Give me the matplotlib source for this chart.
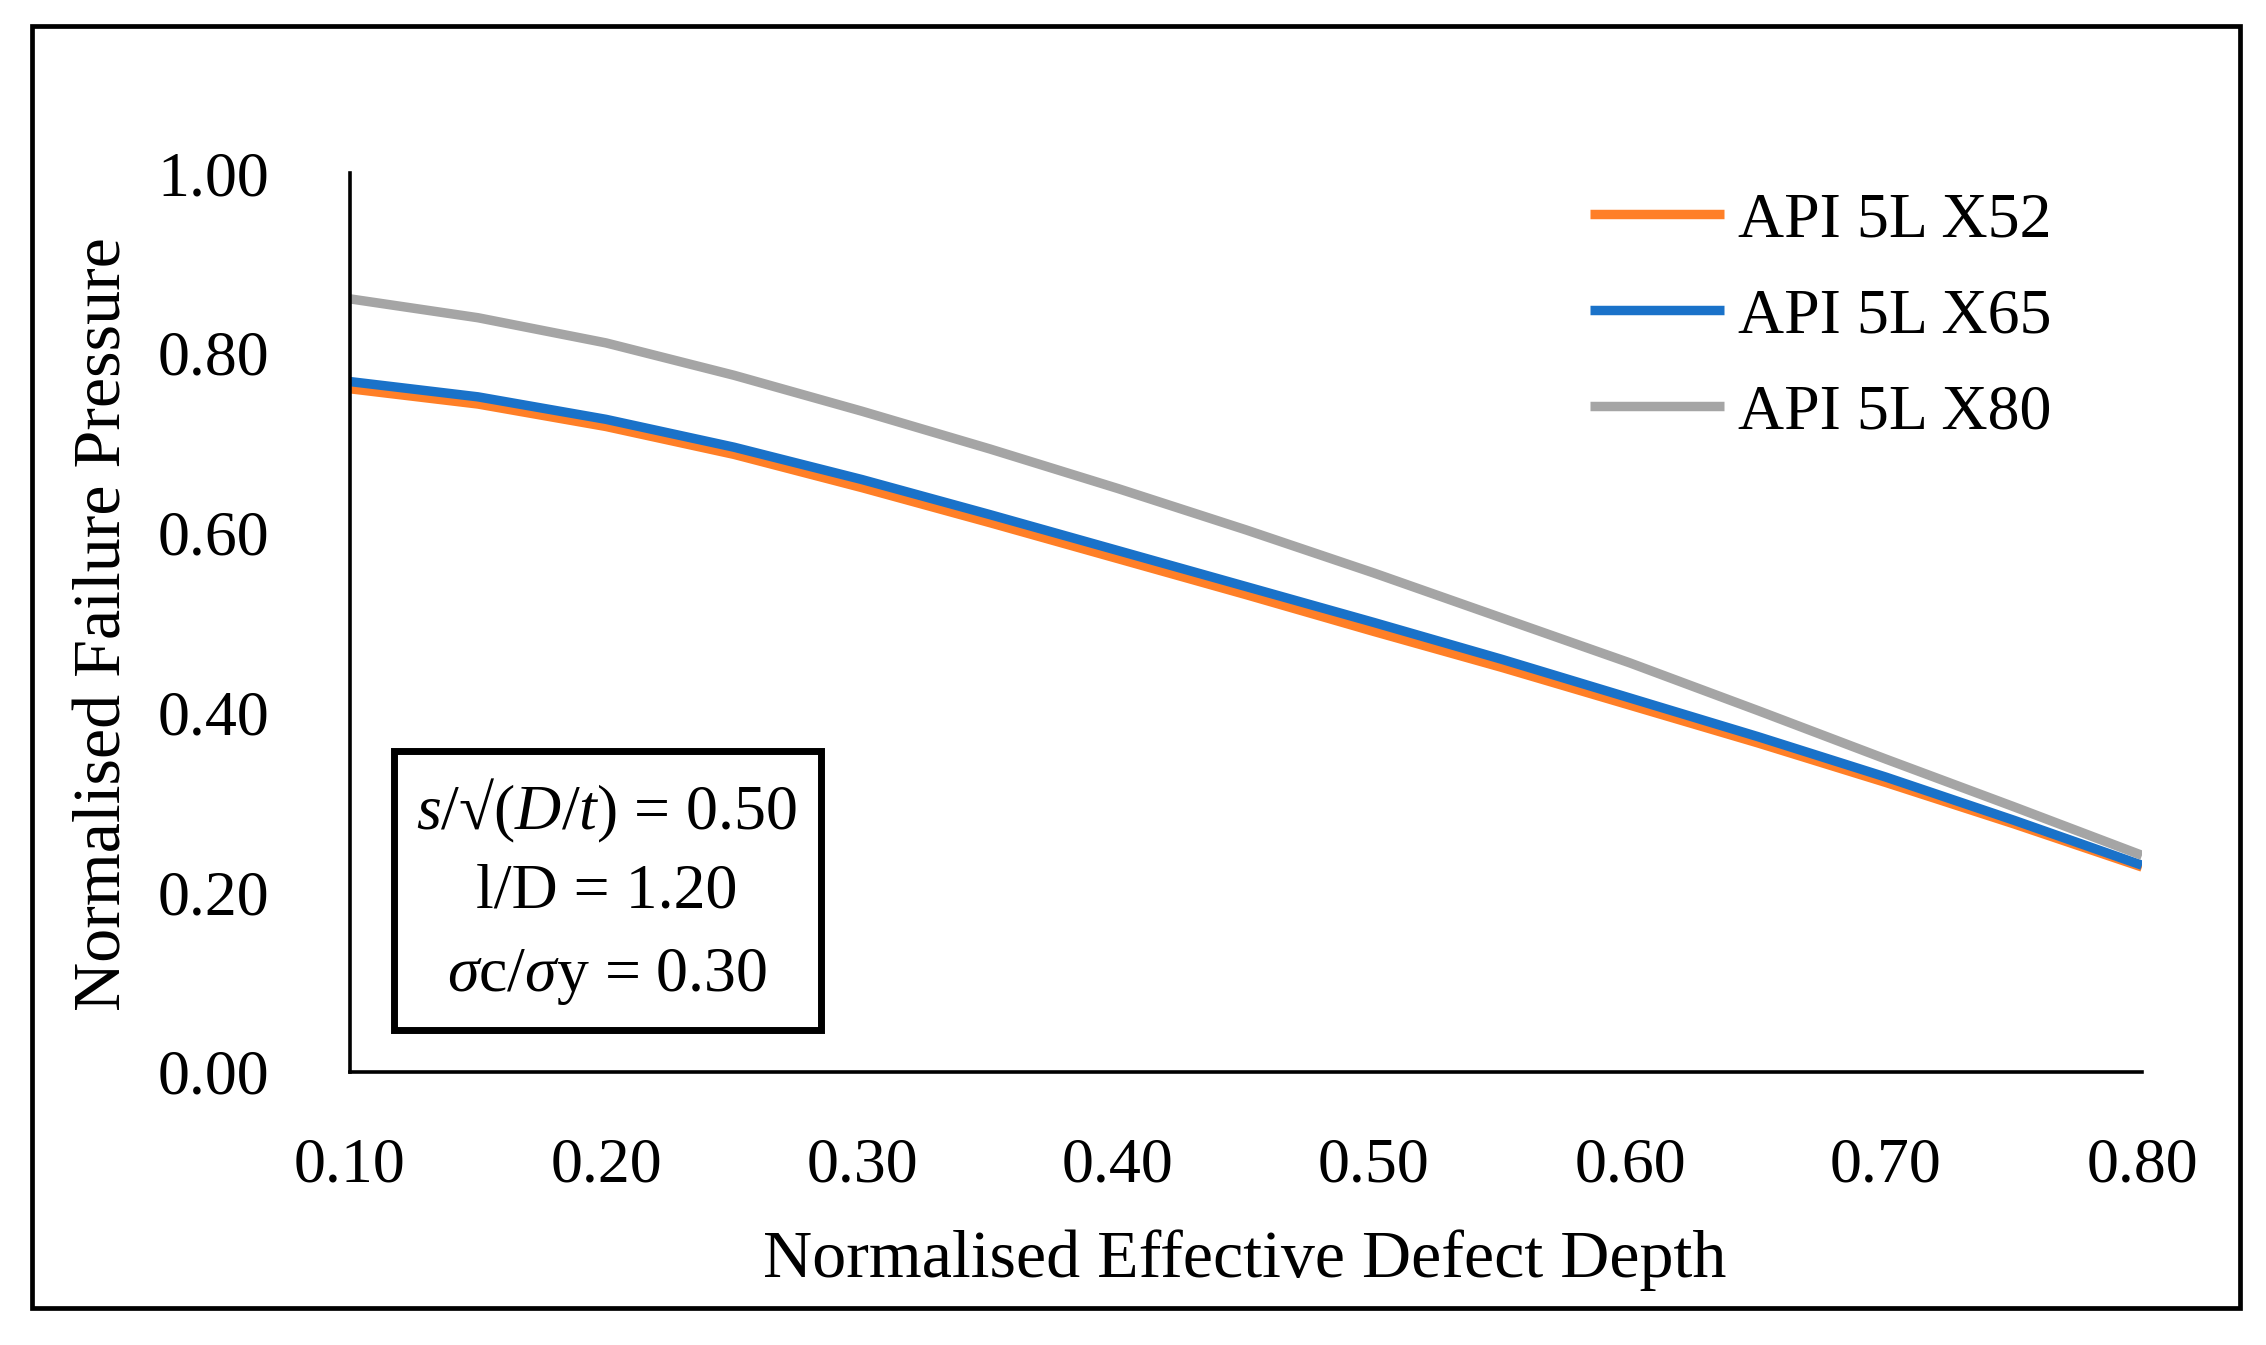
import matplotlib
matplotlib.use("Agg")
import matplotlib.pyplot as plt
from matplotlib.patches import Rectangle

plt.rcParams['font.family'] = ['Liberation Serif', 'DejaVu Serif']
plt.rcParams['mathtext.fontset'] = 'custom'
plt.rcParams['mathtext.rm'] = 'Liberation Serif'
plt.rcParams['mathtext.it'] = 'Liberation Serif:italic'

# ---- data ----
depth = [0.10, 0.15, 0.20, 0.25, 0.30, 0.35, 0.40, 0.45, 0.50, 0.55, 0.60, 0.65, 0.70, 0.75, 0.80]
x52 = [0.760, 0.743, 0.718, 0.687, 0.650, 0.611, 0.571, 0.531, 0.490, 0.450, 0.408, 0.366, 0.322, 0.276, 0.228]
x65 = [0.768, 0.751, 0.726, 0.695, 0.659, 0.620, 0.580, 0.540, 0.500, 0.459, 0.416, 0.373, 0.328, 0.280, 0.230]
x80 = [0.860, 0.839, 0.811, 0.775, 0.735, 0.693, 0.649, 0.603, 0.555, 0.505, 0.455, 0.402, 0.348, 0.295, 0.241]
series_names = ["API 5L X52", "API 5L X65", "API 5L X80"]
series_colors = ["#FF7F27", "#1A72C9", "#A5A5A5"]
xticks = [0.10, 0.20, 0.30, 0.40, 0.50, 0.60, 0.70, 0.80]
yticks = [0.00, 0.20, 0.40, 0.60, 0.80, 1.00]
xlabel = "Normalised Effective Defect Depth"
ylabel = "Normalised Failure Pressure"
note_lines = [r"$s$/√($D$/$t$) = 0.50", "l/D = 1.20", r"$σ$c/$σ$y = 0.30"]

W, H = 2266, 1345
fig = plt.figure(figsize=(W / 100, H / 100), dpi=100)
fig.patch.set_facecolor("white")

# outer border
fig.add_artist(Rectangle((32 / W, 1 - 1308 / H), (2240 - 32) / W, (1308 - 26) / H,
                         transform=fig.transFigure, fill=False, lw=3.4, ec="black"))

ax = fig.add_axes([350 / W, 1 - 1072 / H, (2142 - 350) / W, (1072 - 173) / H])
for vals, name, col in zip([x52, x65, x80], series_names, series_colors):
    ax.plot(depth, vals, color=col, lw=6.8, label=name, solid_capstyle="butt",
            solid_joinstyle="round")

ax.set_xlim(0.10, 0.80)
ax.set_ylim(0.0, 1.0)
ax.set_xticks(xticks)
ax.set_xticklabels([f"{v:.2f}" for v in xticks])
ax.set_yticks(yticks)
ax.set_yticklabels([f"{v:.2f}" for v in yticks])
ax.tick_params(axis="both", length=0, labelsize=46)
ax.tick_params(axis="x", pad=47)
ax.tick_params(axis="y", pad=58)
for s in ["top", "right"]:
    ax.spines[s].set_visible(False)
for s in ["left", "bottom"]:
    ax.spines[s].set_linewidth(2.6)
    ax.spines[s].set_color("black")
ax.patch.set_alpha(0)

fig.text(1245 / W, 1 - 1260 / H, xlabel, ha="center", va="center", fontsize=49)
fig.text(104 / W, 1 - 624 / H, ylabel, ha="center", va="center", rotation=90, fontsize=49)

# annotation box
fig.add_artist(Rectangle((394 / W, 1 - 1030 / H), (821 - 394) / W, (1030 - 751) / H,
                         transform=fig.transFigure, fill=False, lw=5, ec="black"))
for line, yc in zip(note_lines, [811, 893, 977]):
    fig.text(607 / W, 1 - yc / H, line, ha="center", va="center", fontsize=46)

leg = ax.legend(loc="upper left", bbox_to_anchor=(1590 / W, 1 - 192 / H),
                bbox_transform=fig.transFigure, frameon=False, fontsize=46,
                handlelength=2.1, handletextpad=0.22, labelspacing=0.58,
                borderpad=0, borderaxespad=0)

fig.savefig("out.png", dpi=100)
